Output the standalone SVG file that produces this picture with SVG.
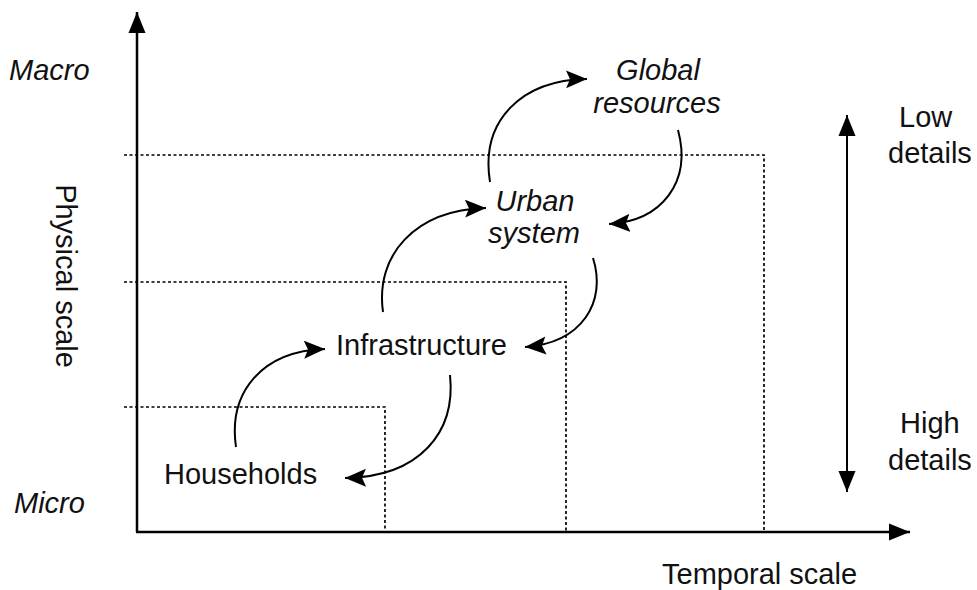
<svg xmlns="http://www.w3.org/2000/svg" width="977" height="590" viewBox="0 0 977 590">
<style>
text{font-family:"Liberation Sans",Arial,sans-serif;font-size:29px;fill:#111}
.it{font-style:italic}
.axis{stroke:#000;stroke-width:2.5;fill:none}
.dot{stroke:#000;stroke-width:1.7;stroke-dasharray:3,2.5;fill:none}
.arc{stroke:#000;stroke-width:2;fill:none}
</style>
<defs>
<marker id="ah" markerUnits="userSpaceOnUse" markerWidth="24" markerHeight="20" refX="21" refY="9" orient="auto">
<path d="M0,0 L21,9 L0,18 L4,9 Z" fill="#000"/>
</marker>
<marker id="axh" markerUnits="userSpaceOnUse" markerWidth="24" markerHeight="20" refX="21" refY="9" orient="auto">
<path d="M0,0.5 L21,9 L0,17.5 Z" fill="#000"/>
</marker>
<marker id="axs" markerUnits="userSpaceOnUse" markerWidth="24" markerHeight="20" refX="0" refY="9" orient="auto">
<path d="M21,0.5 L0,9 L21,17.5 Z" fill="#000"/>
</marker>
</defs>
<g id="grid">
<polyline class="dot" points="124,155 764,155 764,532"/>
<polyline class="dot" points="124,282 566,282 566,532"/>
<polyline class="dot" points="124,407 385,407 385,532"/>
</g>
<g id="axes">
<line class="axis" x1="137" y1="532" x2="137" y2="12" marker-end="url(#axh)"/>
<line class="axis" x1="136" y1="532" x2="910" y2="532" marker-end="url(#axh)"/>
<line stroke="#000" stroke-width="2" x1="847" y1="115" x2="847" y2="492" marker-start="url(#axs)" marker-end="url(#axh)"/>
</g>
<g id="connectors">
<path class="arc" d="M236,447 C228,392 262,351 325,349" marker-end="url(#ah)"/>
<path class="arc" d="M450,375 C456,432 420,477 345,478" marker-end="url(#ah)"/>
<path class="arc" d="M383,312 C375,255 415,210 486,208" marker-end="url(#ah)"/>
<path class="arc" d="M593,258 C607,302 582,343 525,347" marker-end="url(#ah)"/>
<path class="arc" d="M490,182 C480,120 522,80 587,79" marker-end="url(#ah)"/>
<path class="arc" d="M678,130 C692,182 662,221 609,224" marker-end="url(#ah)"/>
</g>
<g id="labels">
<text class="it" x="9" y="80">Macro</text>
<text class="it" x="14" y="513">Micro</text>
<text transform="translate(56,276) rotate(90)" text-anchor="middle">Physical scale</text>
<text x="662" y="584">Temporal scale</text>
<text x="899" y="127">Low</text>
<text x="888" y="163">details</text>
<text x="900" y="433">High</text>
<text x="888" y="470">details</text>
</g>
<g id="node-global"><text class="it" text-anchor="middle" x="658" y="80">Global</text><text class="it" text-anchor="middle" x="657" y="113">resources</text></g>
<g id="node-urban"><text class="it" text-anchor="middle" x="535" y="211">Urban</text><text class="it" text-anchor="middle" x="534" y="243">system</text></g>
<g id="node-infrastructure"><text x="336" y="355">Infrastructure</text></g>
<g id="node-households"><text x="164" y="484">Households</text></g>
</svg>
